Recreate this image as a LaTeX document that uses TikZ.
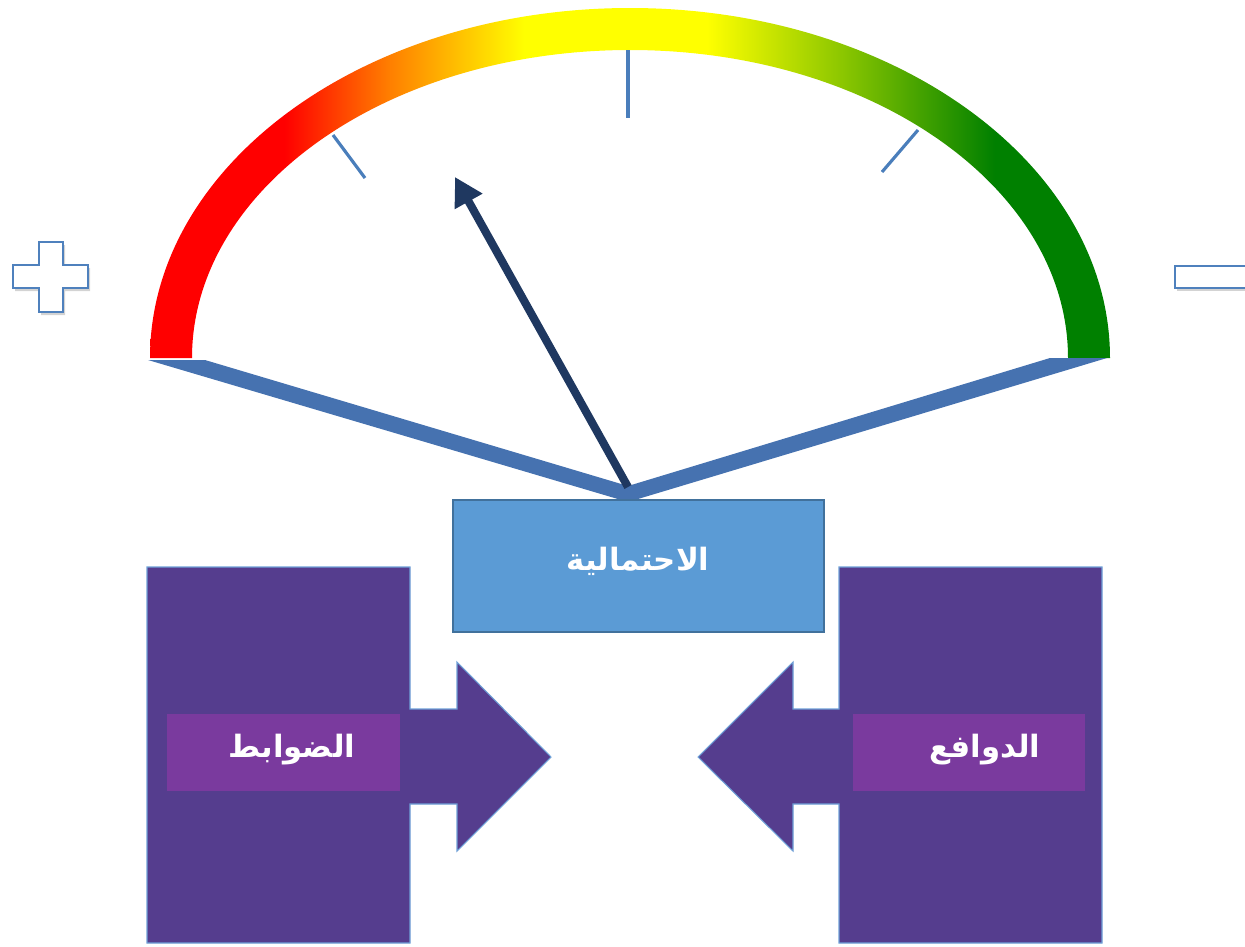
\documentclass[tikz,border=0pt]{standalone}
\usepackage{fontspec}
\usetikzlibrary{arrows.meta}
\TeXXeTstate=1
\newfontfamily\arabicfont[Script=Arabic]{DejaVu Sans}

\definecolor{gaugeblue}{RGB}{70,114,176}
\definecolor{tickblue}{RGB}{74,126,187}
\definecolor{needlenavy}{RGB}{31,56,96}
\definecolor{boxblue}{RGB}{91,155,213}
\definecolor{boxedge}{RGB}{65,113,156}
\definecolor{callpurple}{RGB}{85,61,142}
\definecolor{labelpurple}{RGB}{122,58,158}
\definecolor{calledge}{RGB}{110,160,215}
\definecolor{signedge}{RGB}{79,129,189}

% red -> orange -> yellow -> green along the dial
\pgfdeclarehorizontalshading{gauge}{100bp}{rgb(0bp)=(1,0,0); rgb(32bp)=(1,0,0);
  rgb(37.5bp)=(1,0.5,0); rgb(44.5bp)=(1,1,0); rgb(54bp)=(1,1,0);
  rgb(61bp)=(0.55,0.78,0); rgb(69bp)=(0,0.5,0); rgb(100bp)=(0,0.5,0)}

\begin{document}
\begin{tikzpicture}[x=0.02cm,y=-0.02cm,
    lbl/.style={text=white,inner sep=0pt,font=\arabicfont\bfseries\fontsize{17.5}{21}\selectfont},
    gaugetick/.style={draw=tickblue,line width=1.8pt},
    callout/.style={fill=callpurple,draw=calledge,line width=0.6pt},
    labeltag/.style={fill=labelpurple,minimum width=4.66cm,minimum height=1.54cm,inner sep=0pt},
    signbox/.style={fill=white,draw=signedge,line width=1.2pt}]

    \useasboundingbox (0,0) rectangle (1245,947);

    % Plus sign (with a soft shadow)
    \fill[gray,opacity=0.35] (41,245) -- (65,245) -- (65,268) -- (90,268) -- (90,291) -- (65,291)
        -- (65,315) -- (41,315) -- (41,291) -- (15,291) -- (15,268) -- (41,268) -- cycle;
    \draw[signbox] (39,242) -- (63,242) -- (63,265) -- (88,265) -- (88,288) -- (63,288)
        -- (63,312) -- (39,312) -- (39,288) -- (13,288) -- (13,265) -- (39,265) -- cycle;

    % Minus sign
    \fill[gray,opacity=0.35] (1177,269) rectangle (1250,291);
    \draw[signbox] (1175,266) rectangle (1250,288);

    % Coloured dial
    \shade[shading=gauge] (150,358) arc[start angle=180,end angle=360,x radius=480,y radius=350]
        -- (1068,358) arc[start angle=0,end angle=-180,x radius=438,y radius=308] -- cycle;

    % Tick marks
    \draw[gaugetick] (628,50) -- (628,118);
    \draw[gaugetick] (333,135) -- (365,178);
    \draw[gaugetick] (918,130) -- (882,172);

    % V-shaped base of the dial
    \fill[gaugeblue] (148,360) -- (205,360) -- (628,486) -- (1050,358) -- (1107,358)
        -- (628,502) -- cycle;

    % Needle
    \coordinate (pivot) at (628,487);
    \coordinate (tip) at (455,177);
    \draw[needlenavy,line width=4.6pt,-{Triangle[length=0.56cm,width=0.6cm]}] (pivot) -- (tip);

    % Central box
    \node[draw=boxedge,line width=1.2pt,fill=boxblue,minimum width=7.42cm,
        minimum height=2.64cm,inner sep=0pt] (prob) at (638.5,566) {};
    \node[lbl] (probtext) at (638,561) {\beginR الاحتمالية\endR};

    % Left callout pointing right
    \filldraw[callout] (147,567) -- (410,567) -- (410,709) -- (457,709) -- (457,662) -- (551,757)
        -- (457,851) -- (457,804) -- (410,804) -- (410,943) -- (147,943) -- cycle;
    \node[labeltag] (ltag) at (283.5,752.5) {};
    \node[lbl] (ltext) at (292,750) {\beginR الضوابط\endR};

    % Right callout pointing left
    \filldraw[callout] (1102,567) -- (839,567) -- (839,709) -- (793,709) -- (793,662) -- (698,757)
        -- (793,851) -- (793,804) -- (839,804) -- (839,943) -- (1102,943) -- cycle;
    \node[labeltag] (rtag) at (969,752.5) {};
    \node[lbl] (rtext) at (985,750) {\beginR الدوافع\endR};

\end{tikzpicture}
\end{document}
